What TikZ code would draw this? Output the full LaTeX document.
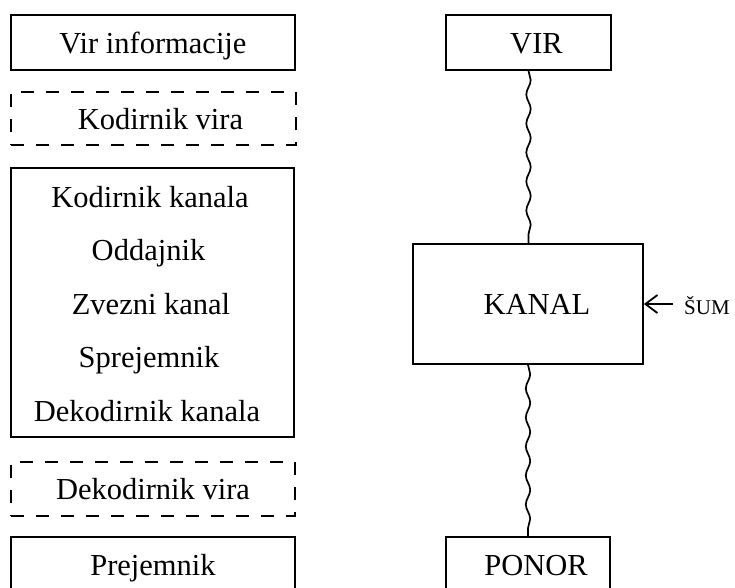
\documentclass[tikz,border=0pt]{standalone}
\usepackage{fontspec}
\setmainfont{Liberation Serif}
\usetikzlibrary{arrows.meta,decorations.pathmorphing}
\begin{document}
\begin{tikzpicture}[x=1pt,y=-1pt,
  box/.style={draw, line width=1.8pt, inner sep=0pt,
    font=\fontsize{30.5}{36}\selectfont, text height=22pt, text depth=1pt},
  dbox/.style={box, dash pattern=on 13pt off 12pt},
  lbl/.style={font=\fontsize{30.5}{36}\selectfont, anchor=base, inner sep=0pt},
  wave/.style={line width=1.7pt, decorate,
    decoration={snake, amplitude=2.2pt, segment length=29pt}},
  noise/.style={line width=1.8pt, -{Straight Barb[length=12pt,width=18pt]}},
]
\useasboundingbox (0,0) rectangle (735,587);
\clip (0,0) rectangle (735,587);

% left column: the full chain of blocks
\node[box, minimum width=284pt, minimum height=55pt] (src) at (153,42.5) {Vir informacije};
\node[dbox, minimum width=285pt, minimum height=53pt] (srcenc) at (153.5,118.5) {\hspace*{14pt}Kodirnik vira};
\node[box, minimum width=283pt, minimum height=269pt] (chain) at (152.5,302.5) {};
\node[lbl] (chenc) at (150,207) {Kodirnik kanala};
\node[lbl] (tx)    at (148.5,260.5) {Oddajnik};
\node[lbl] (link)  at (151,314) {Zvezni kanal};
\node[lbl] (rx)    at (149,367.5) {Sprejemnik};
\node[lbl] (chdec) at (147,421) {Dekodirnik kanala};
\node[dbox, minimum width=284pt, minimum height=54pt] (srcdec) at (153,489) {Dekodirnik vira};
\node[box, minimum width=284pt, minimum height=56pt] (sink) at (153,565) {Prejemnik};

% right column: simplified model
\node[box, minimum width=165pt, minimum height=55pt] (vir) at (528.5,42.5) {\hspace*{16pt}VIR};
\node[box, minimum width=230pt, minimum height=120pt] (kanal) at (528,304) {\hspace*{18pt}KANAL};
\node[box, minimum width=164pt, minimum height=56pt] (ponor) at (528,565) {\hspace*{16pt}PONOR};
\node[font=\fontsize{21}{24}\selectfont, inner sep=0pt, anchor=west] (sum) at (684,306) {ŠUM};

\draw[wave] (vir.south) -- (vir.south |- kanal.north);
\draw[wave] (kanal.south) -- (kanal.south |- ponor.north);

\coordinate (sumtail) at (673,304);
\draw[noise] (sumtail) -- (sumtail -| kanal.east);
\end{tikzpicture}
\end{document}
